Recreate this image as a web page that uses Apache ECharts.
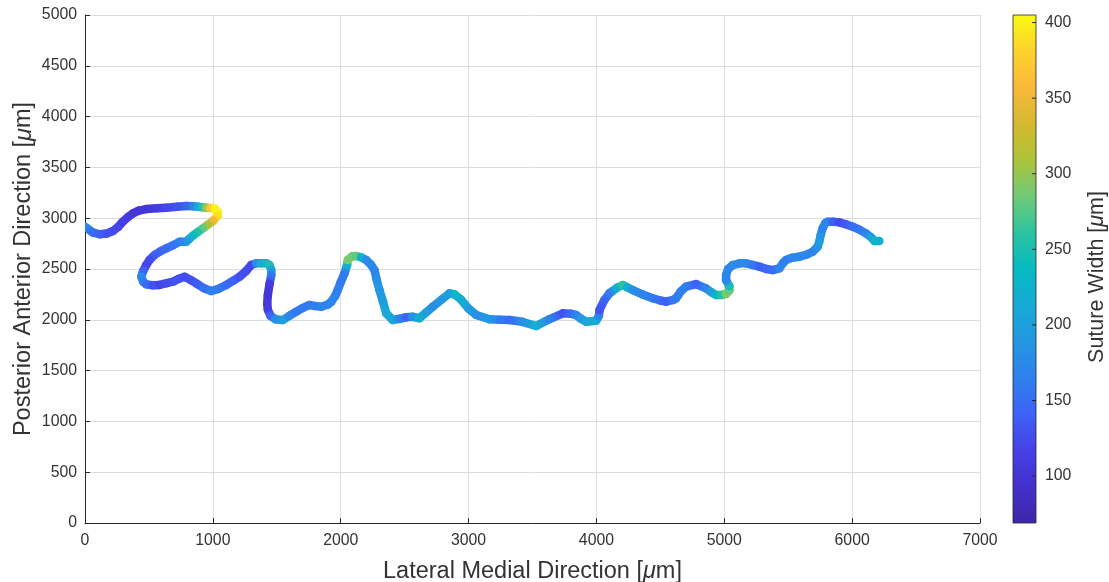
<!DOCTYPE html>
<html>
<head>
<meta charset="utf-8">
<script src="https://cdn.jsdelivr.net/npm/echarts@6/dist/echarts.min.js"></script>
<style>
html,body{margin:0;padding:0;background:#fff;}
#chart{width:1109px;height:582px;}
</style>
</head>
<body>
<div id="chart"></div>
<script>
// Path coordinates (µm) and suture width (µm) along the suture
const PATH_X = [0,60,114,170,218,260,296,340,375,420,479,560,636,720,792,850,883,920,948,980,1013,1039,1039,1000,960,922,880,844,810,792,740,690,636,590,544,505,479,455,440,455,479,530,583,640,688,735,779,830,870,930,987,1045,1105,1160,1209,1260,1300,1340,1378,1420,1443,1457,1457,1443,1430,1425,1430,1450,1490,1547,1600,1652,1700,1756,1800,1848,1900,1926,1955,1977,2000,2030,2050,2055,2090,2121,2160,2199,2235,2264,2280,2303,2330,2356,2407,2460,2512,2560,2616,2670,2720,2790,2851,2890,2940,3000,3060,3164,3250,3320,3420,3529,3630,3737,3800,3842,3880,3920,3998,4020,4024,4060,4102,4160,4206,4240,4284,4360,4440,4500,4545,4600,4623,4660,4701,4779,4857,4900,4936,4980,5014,5040,5040,5014,5014,5030,5066,5120,5170,5220,5274,5330,5379,5431,5460,5483,5530,5587,5640,5691,5730,5743,5755,5769,5790,5808,5850,5900,5950,6004,6060,6108,6150,6174,6213];
const PATH_Y = [2916,2860,2842,2850,2874,2915,2966,3015,3048,3075,3090,3098,3103,3112,3120,3118,3113,3108,3103,3100,3097,3060,3025,2972,2935,2900,2862,2828,2790,2769,2769,2735,2704,2675,2638,2590,2539,2480,2424,2375,2349,2340,2343,2360,2375,2405,2424,2390,2359,2310,2283,2305,2343,2385,2424,2480,2539,2556,2556,2556,2539,2490,2441,2350,2244,2160,2100,2040,2005,1998,2040,2080,2115,2146,2135,2129,2150,2178,2230,2293,2370,2458,2540,2589,2625,2628,2615,2589,2545,2490,2400,2293,2180,2064,1998,2010,2025,2030,2015,2075,2129,2200,2261,2251,2200,2110,2047,2005,2000,1998,1980,1939,2005,2064,2060,2047,2010,1981,1991,2040,2096,2190,2261,2315,2343,2320,2293,2250,2212,2190,2178,2195,2212,2280,2326,2352,2310,2270,2244,2245,2254,2290,2330,2392,2441,2500,2539,2556,2556,2540,2523,2500,2490,2507,2560,2589,2610,2621,2640,2670,2720,2769,2840,2900,2950,2966,2965,2959,2940,2916,2885,2851,2810,2776,2776];
const SUTURE_WIDTH = [175,150,140,130,125,120,115,110,105,100,100,110,120,130,140,170,210,260,300,370,400,400,390,350,310,280,255,240,210,190,170,155,150,145,140,125,120,140,175,165,150,130,120,125,130,130,125,130,135,150,165,160,150,140,130,125,120,180,220,240,250,200,160,110,100,105,110,140,180,200,170,160,160,160,165,170,170,170,168,165,160,160,220,290,285,280,230,180,175,170,180,190,200,210,210,170,140,180,220,200,180,190,200,230,220,200,180,190,160,150,180,220,170,130,150,170,190,210,215,170,130,140,160,220,260,220,180,170,160,150,140,155,160,165,165,140,170,200,230,260,290,280,250,170,170,172,175,175,175,160,140,145,150,170,168,165,170,175,172,170,185,200,185,170,170,170,140,125,135,150,160,170,200,230,220];

const X_MIN = 0, X_MAX = 7000, X_STEP = 1000;
const Y_MIN = 0, Y_MAX = 5000, Y_STEP = 500;
const CB_MIN = 69, CB_MAX = 405;
const CB_TICKS = [100,150,200,250,300,350,400];
const X_TITLE = 'Lateral Medial Direction';
const Y_TITLE = 'Posterior Anterior Direction';
const CB_TITLE = 'Suture Width';

// parula-like colormap, evenly spaced stops
const PARULA = ['#3E26A8','#4430CC','#4640E6','#3D62F7','#2F80EE','#2396E2','#17AAD6','#06BAC2','#2CC3A0','#70CA78','#ADC33A','#D4B92E','#FBB93A','#FDD22C','#F9FA14'];

function hexToRgb(h){const n=parseInt(h.slice(1),16);return [(n>>16)&255,(n>>8)&255,n&255];}
const PAR_RGB = PARULA.map(hexToRgb);
function colorFor(v){
  let t=(v-CB_MIN)/(CB_MAX-CB_MIN); t=Math.max(0,Math.min(1,t));
  const f=t*(PAR_RGB.length-1); const i=Math.min(Math.floor(f),PAR_RGB.length-2); const r=f-i;
  const a=PAR_RGB[i], b=PAR_RGB[i+1];
  return 'rgb('+Math.round(a[0]+(b[0]-a[0])*r)+','+Math.round(a[1]+(b[1]-a[1])*r)+','+Math.round(a[2]+(b[2]-a[2])*r)+')';
}

const pathData = PATH_X.map((x,i)=>[x,PATH_Y[i],SUTURE_WIDTH[i]]);
const FONT = 'Liberation Sans, Arial, Helvetica, sans-serif';
const TXT = '#333333';
const plain = v => String(v);

function titleRich(size, pad){
  return {
    fontFamily: FONT, fontSize: size, color: TXT, padding: pad || 0,
    rich: { m: { fontFamily: FONT, fontSize: size, fontStyle: 'italic', color: TXT } }
  };
}

const chart = echarts.init(document.getElementById('chart'), null, {renderer:'canvas'});
chart.setOption({
  animation: false,
  backgroundColor: '#ffffff',
  grid: [
    {left: 85, right: 129, top: 15, bottom: 59, containLabel: false, outerBoundsMode: 'none'},
    {left: 1013, width: 23, top: 15, bottom: 59, containLabel: false, outerBoundsMode: 'none'}
  ],
  xAxis: [
    {
      gridIndex: 0, type: 'value', min: X_MIN, max: X_MAX, interval: X_STEP,
      name: X_TITLE + ' [{m|μ}m]', nameLocation: 'middle', nameGap: 36.5, nameMoveOverlap: false,
      nameTextStyle: titleRich(23.5),
      axisLine: {show: true, onZero: false, lineStyle: {color: '#262626', width: 1}},
      axisTick: {show: true, inside: true, length: 5, lineStyle: {color: '#262626'}},
      axisLabel: {fontFamily: FONT, fontSize: 15.8, color: TXT, margin: 10, formatter: plain},
      splitLine: {show: true, lineStyle: {color: '#dcdcdc', width: 1}}
    },
    {gridIndex: 1, type: 'value', min: 0, max: 1, show: false}
  ],
  yAxis: [
    {
      gridIndex: 0, type: 'value', min: Y_MIN, max: Y_MAX, interval: Y_STEP,
      name: Y_TITLE + ' [{m|μ}m]', nameLocation: 'middle', nameGap: 49, nameRotate: 90, nameMoveOverlap: false,
      nameTextStyle: titleRich(23.5),
      axisLine: {show: true, onZero: false, lineStyle: {color: '#262626', width: 1}},
      axisTick: {show: true, inside: true, length: 5, lineStyle: {color: '#262626'}},
      axisLabel: {fontFamily: FONT, fontSize: 15.8, color: TXT, margin: 8, formatter: plain},
      splitLine: {show: true, lineStyle: {color: '#dcdcdc', width: 1}}
    },
    {
      gridIndex: 1, type: 'value', min: CB_MIN, max: CB_MAX, position: 'right',
      name: CB_TITLE + ' [{m|μ}m]', nameLocation: 'middle', nameGap: 50, nameRotate: 90,
      nameTextStyle: titleRich(21.5, [0, 16, 0, 0]),
      axisLine: {show: false},
      axisTick: {show: false},
      axisLabel: {fontFamily: FONT, fontSize: 15.8, color: TXT, margin: 9, customValues: CB_TICKS, formatter: plain},
      splitLine: {show: false}
    }
  ],
  series: [
    {
      type: 'custom', xAxisIndex: 0, yAxisIndex: 0, clip: true,
      encode: {x: 0, y: 1},
      data: pathData,
      renderItem: function(params, api){
        const i = params.dataIndex;
        if (i >= PATH_X.length - 1) return null;
        const p0 = api.coord([api.value(0), api.value(1)]);
        const p1 = api.coord([PATH_X[i+1], PATH_Y[i+1]]);
        const c0 = colorFor(api.value(2)), c1 = colorFor(SUTURE_WIDTH[i+1]);
        return {
          type: 'line',
          shape: {x1: p0[0], y1: p0[1], x2: p1[0], y2: p1[1]},
          style: {
            stroke: new echarts.graphic.LinearGradient(p0[0], p0[1], p1[0], p1[1], [{offset: 0, color: c0}, {offset: 1, color: c1}], true),
            lineWidth: 8.5, lineCap: 'round', lineJoin: 'round'
          }
        };
      }
    },
    {
      type: 'custom', xAxisIndex: 1, yAxisIndex: 1, silent: true,
      data: [[0, CB_MIN]],
      renderItem: function(params, api){
        const tl = api.coord([0, CB_MAX]);
        const br = api.coord([1, CB_MIN]);
        const stops = PARULA.map((c,k)=>({offset: 1 - k/(PARULA.length-1), color: c})).reverse();
        const children = [{
          type: 'rect',
          shape: {x: tl[0], y: tl[1], width: br[0]-tl[0], height: br[1]-tl[1]},
          style: {
            fill: new echarts.graphic.LinearGradient(0, 0, 0, 1, stops),
            stroke: '#262626', lineWidth: 0.8
          }
        }];
        CB_TICKS.forEach(function(t){
          const p = api.coord([1, t]);
          children.push({type: 'line', shape: {x1: p[0]-4, y1: p[1], x2: p[0], y2: p[1]}, style: {stroke: '#262626', lineWidth: 1}});
        });
        return {type: 'group', children: children};
      }
    }
  ]
});
</script>
</body>
</html>
